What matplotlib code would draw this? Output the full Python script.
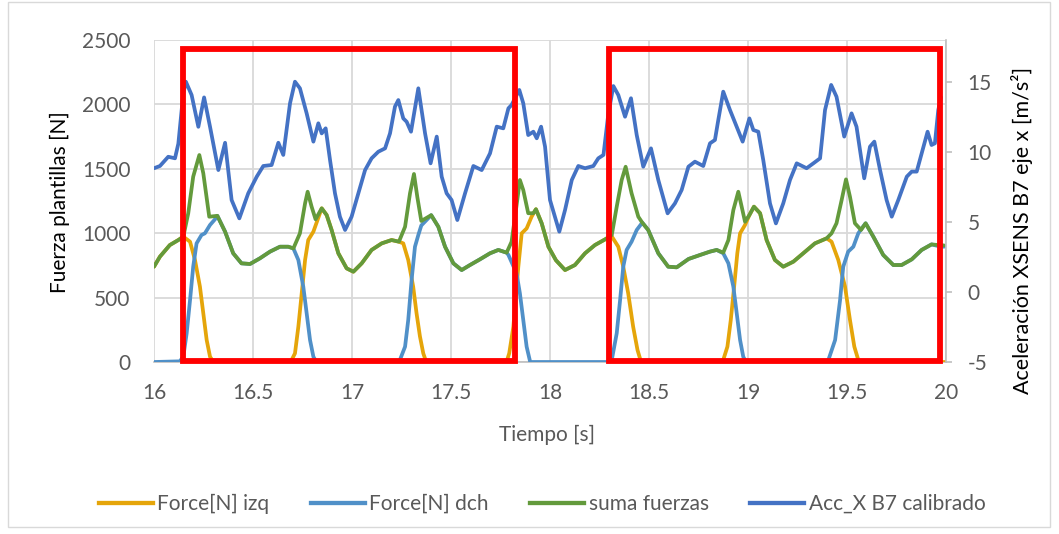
import numpy as np
import matplotlib
matplotlib.use("Agg")
import matplotlib.pyplot as plt
from matplotlib.patches import Rectangle
from matplotlib.lines import Line2D

plt.rcParams['font.family'] = ['Lato', 'DejaVu Sans']

# ---------------- data ----------------
# Left insole force [N]
t_izq = [16.00, 16.03, 16.08, 16.123, 16.148, 16.182, 16.207, 16.232, 16.249, 16.266, 16.283, 16.30,
         16.69, 16.712, 16.729, 16.746, 16.763, 16.779, 16.805, 16.83, 16.847, 16.872, 16.897, 16.931,
         16.973, 17.007, 17.049, 17.099, 17.15, 17.20, 17.237, 17.259, 17.284, 17.309, 17.326, 17.343,
         17.36, 17.375, 17.78, 17.794, 17.815, 17.84, 17.857, 17.882, 17.907, 17.929, 17.958, 17.992,
         18.03, 18.076, 18.126, 18.177, 18.227, 18.278, 18.312, 18.345, 18.37, 18.395, 18.42, 18.442,
         18.46, 18.865, 18.875, 18.896, 18.913, 18.93, 18.946, 18.96, 18.985, 19.007, 19.03, 19.061,
         19.094, 19.136, 19.178, 19.229, 19.279, 19.338, 19.397, 19.422, 19.456, 19.49, 19.515, 19.537,
         19.557, 19.575, 20.0]
f_izq = [740, 818, 908, 947, 973, 934, 792, 585, 378, 171, 41, 0,
         0, 67, 274, 533, 792, 947, 1012, 1120, 1193, 1141, 1025, 844,
         727, 701, 766, 870, 921, 947, 934, 921, 792, 585, 378, 200,
         67, 0, 0, 67, 274, 740, 999, 1037, 1128, 1186, 1077, 895,
         790, 714, 753, 844, 908, 952, 975, 895, 740, 533, 274, 93,
         0, 0, 16, 119, 326, 585, 844, 999, 1064, 1141, 1206, 1155,
         947, 792, 740, 779, 844, 921, 960, 934, 792, 585, 326, 119,
         16, 0, 0]

# Right insole force [N]
t_dch = [16.00, 16.13, 16.148, 16.165, 16.182, 16.198, 16.215, 16.24, 16.257, 16.283, 16.308, 16.32,
         16.359, 16.40, 16.442, 16.485, 16.535, 16.586, 16.636, 16.678, 16.704, 16.729, 16.754, 16.771,
         16.788, 16.805, 16.82, 17.235, 17.242, 17.268, 17.284, 17.301, 17.318, 17.335, 17.35, 17.40,
         17.436, 17.47, 17.512, 17.554, 17.596, 17.646, 17.697, 17.739, 17.781, 17.79, 17.831, 17.848,
         17.865, 17.882, 17.90, 18.305, 18.312, 18.337, 18.354, 18.37, 18.387, 18.412, 18.438, 18.466,
         18.496, 18.547, 18.597, 18.64, 18.70, 18.758, 18.808, 18.842, 18.875, 18.901, 18.926, 18.943,
         18.96, 18.976, 18.99, 19.40, 19.406, 19.44, 19.465, 19.481, 19.506, 19.532, 19.557, 19.574,
         19.594, 19.633, 19.683, 19.734, 19.776, 19.827, 19.877, 19.927, 19.961, 19.99]
f_dch = [0, 5, 41, 223, 481, 740, 921, 986, 999, 1064, 1108, 1135,
         1012, 844, 766, 761, 805, 857, 895, 895, 882, 792, 585, 378,
         171, 41, 0, 0, 16, 119, 326, 637, 895, 986, 1060, 1140,
         1050, 895, 766, 714, 753, 797, 844, 870, 849, 831, 689, 533,
         326, 119, 0, 0, 16, 223, 481, 740, 870, 934, 1025, 1082,
         1025, 844, 740, 735, 800, 831, 857, 870, 844, 766, 585, 378,
         171, 41, 0, 0, 16, 171, 481, 740, 857, 895, 999, 1037,
         1077, 973, 831, 753, 753, 797, 870, 913, 900, 895]

# Sum of both insoles [N]
t_suma = [16.00, 16.03, 16.08, 16.123, 16.148, 16.173, 16.198, 16.229, 16.249, 16.279, 16.32, 16.359,
          16.40, 16.442, 16.485, 16.535, 16.586, 16.636, 16.678, 16.704, 16.737, 16.763, 16.776, 16.796,
          16.816, 16.847, 16.872, 16.897, 16.931, 16.973, 17.007, 17.049, 17.099, 17.15, 17.20, 17.237,
          17.268, 17.293, 17.313, 17.33, 17.35, 17.40, 17.436, 17.47, 17.512, 17.554, 17.596, 17.646,
          17.697, 17.739, 17.781, 17.806, 17.828, 17.848, 17.865, 17.89, 17.916, 17.929, 17.958, 17.992,
          18.03, 18.076, 18.126, 18.177, 18.227, 18.278, 18.312, 18.337, 18.362, 18.382, 18.412, 18.446,
          18.466, 18.496, 18.547, 18.597, 18.64, 18.70, 18.758, 18.808, 18.842, 18.875, 18.901, 18.926,
          18.951, 18.968, 18.985, 19.007, 19.03, 19.061, 19.094, 19.136, 19.178, 19.229, 19.279, 19.338,
          19.397, 19.422, 19.447, 19.473, 19.495, 19.515, 19.54, 19.571, 19.594, 19.633, 19.683, 19.734,
          19.776, 19.827, 19.877, 19.927, 19.961, 19.99]
f_suma = [740, 818, 908, 947, 973, 1155, 1439, 1607, 1465, 1128, 1135, 1012,
          844, 766, 761, 805, 857, 895, 895, 882, 999, 1232, 1322, 1206,
          1108, 1193, 1141, 1025, 844, 727, 701, 766, 870, 921, 947, 934,
          1050, 1310, 1460, 1280, 1095, 1140, 1050, 895, 766, 714, 753, 797,
          844, 870, 849, 934, 1180, 1413, 1335, 1155, 1155, 1186, 1077, 895,
          790, 714, 753, 844, 908, 952, 986, 1206, 1413, 1516, 1310, 1128,
          1082, 1025, 844, 740, 735, 800, 831, 857, 870, 849, 947, 1180,
          1322, 1206, 1089, 1141, 1206, 1155, 947, 792, 740, 779, 844, 921,
          960, 999, 1077, 1258, 1418, 1283, 1077, 1025, 1077, 973, 831, 753,
          753, 797, 870, 913, 908, 905]

# Calibrated X acceleration, XSENS sensor B7 [m/s^2]
t_acc = [16.00, 16.03, 16.072, 16.106, 16.123, 16.148, 16.161, 16.19, 16.224, 16.253, 16.283, 16.325,
         16.359, 16.392, 16.431, 16.476, 16.519, 16.552, 16.594, 16.628, 16.653, 16.687, 16.712, 16.737,
         16.771, 16.805, 16.830, 16.847, 16.867, 16.889, 16.914, 16.939, 16.965, 16.998, 17.032, 17.066,
         17.099, 17.133, 17.167, 17.192, 17.217, 17.234, 17.259, 17.276, 17.298, 17.335, 17.369, 17.397,
         17.428, 17.453, 17.478, 17.503, 17.532, 17.571, 17.613, 17.655, 17.697, 17.731, 17.764, 17.79,
         17.806, 17.845, 17.865, 17.89, 17.916, 17.933, 17.955, 17.975, 18.0, 18.047, 18.076, 18.11,
         18.143, 18.177, 18.219, 18.244, 18.27, 18.295, 18.32, 18.345, 18.379, 18.409, 18.438, 18.471,
         18.51, 18.547, 18.594, 18.631, 18.665, 18.699, 18.732, 18.774, 18.808, 18.833, 18.850, 18.875,
         18.909, 18.943, 18.973, 19.007, 19.027, 19.052, 19.077, 19.111, 19.141, 19.178, 19.212, 19.246,
         19.296, 19.33, 19.364, 19.389, 19.42, 19.447, 19.486, 19.523, 19.548, 19.587, 19.616, 19.638,
         19.667, 19.70, 19.726, 19.759, 19.802, 19.827, 19.852, 19.877, 19.907, 19.927, 19.944, 19.961,
         19.975]
a_acc = [8.84, 9.0, 9.66, 9.55, 10.6, 14.19, 15.02, 14.07, 11.8, 13.9, 11.8, 8.71,
         10.66, 6.57, 5.26, 7.05, 8.24, 9.0, 9.07, 10.66, 9.79, 13.48, 15.02, 14.55,
         12.76, 10.74, 12.05, 11.33, 11.69, 9.43, 7.05, 5.38, 4.43, 5.38, 7.05, 8.71,
         9.55, 10.02, 10.26, 11.33, 13.24, 13.71, 12.40, 12.16, 11.45, 14.55, 11.33, 9.19,
         11.1, 8.24, 7.05, 6.57, 5.14, 7.05, 9.0, 8.71, 9.90, 11.81, 11.69, 13.12,
         13.36, 14.43, 13.48, 11.21, 11.45, 10.98, 11.81, 10.38, 6.57, 4.31, 5.86, 8.0,
         9.0, 8.84, 9.0, 9.55, 9.79, 12.76, 14.71, 14.07, 12.52, 13.84, 11.21, 8.95,
         10.26, 8.0, 5.62, 6.33, 7.29, 8.95, 9.31, 9.0, 10.62, 10.86, 12.29, 14.31,
         13.0, 11.81, 10.74, 12.40, 11.57, 11.45, 9.43, 6.33, 4.9, 6.33, 8.0, 9.19,
         8.84, 9.19, 9.55, 13.0, 14.79, 13.95, 11.1, 12.76, 11.81, 8.12, 10.38, 10.74,
         8.71, 6.57, 5.38, 6.57, 8.24, 8.6, 8.6, 9.9, 11.45, 10.5, 10.62, 13.0,
         13.9]

series_labels = ["Force[N] izq", "Force[N] dch", "suma fuerzas", "Acc_X B7 calibrado"]
series_colors = ["#E5A50A", "#5090C8", "#639A3C", "#4472C4"]

force_ticks = [0, 500, 1000, 1500, 2000, 2500]
acc_ticks = [-5, 0, 5, 10, 15]
time_ticks = [16, 16.5, 17, 17.5, 18, 18.5, 19, 19.5, 20]

# highlighted time windows (red boxes), in time [s] and force [N]
box_start = [16.144, 18.299]
box_end = [17.821, 19.972]
box_low, box_high = 10, 2430

# ---------------- figure ----------------
W, H = 1059, 534
fig = plt.figure(figsize=(W / 100, H / 100), dpi=100)
fig.patch.set_facecolor("white")

ax = fig.add_axes([154 / W, 1 - 362 / H, (946 - 154) / W, (362 - 40) / H])
ax2 = ax.twinx()

tick_gray = "#595959"
grid_gray = "#D9D9D9"
axis_gray = "#BFBFBF"
lw = 2.7
line_kw = dict(lw=lw, solid_joinstyle="round", solid_capstyle="round")

ax.plot(t_izq, f_izq, color=series_colors[0], zorder=3, **line_kw)
ax.plot(t_dch, f_dch, color=series_colors[1], zorder=4, **line_kw)
ax.plot(t_suma, f_suma, color=series_colors[2], zorder=5, **line_kw)
ax2.plot(t_acc, a_acc, color=series_colors[3], zorder=3, **line_kw)

ax.set_xlim(16, 20)
ax.set_ylim(0, 2500)
ax2.set_ylim(-5, 18)

ax.set_xticks(time_ticks)
ax.set_xticklabels([f"{v:g}" for v in time_ticks])
ax.set_yticks(force_ticks)
ax.set_yticklabels([str(v) for v in force_ticks])
ax2.set_yticks(acc_ticks)
ax2.set_yticklabels([str(v) for v in acc_ticks])

ax.grid(True, color=grid_gray, lw=1.3)
ax.set_axisbelow(True)

for s in ["top", "left", "right"]:
    ax.spines[s].set_visible(False)
ax.spines["bottom"].set_color(axis_gray)
ax.spines["bottom"].set_linewidth(1.2)
for s in ["top", "left", "bottom"]:
    ax2.spines[s].set_visible(False)
ax2.spines["right"].set_color(axis_gray)
ax2.spines["right"].set_linewidth(1.2)

ax.tick_params(axis="x", length=0, pad=15, labelsize=15, labelcolor=tick_gray)
ax.tick_params(axis="y", length=0, pad=17, labelsize=15, labelcolor=tick_gray)
ax2.tick_params(axis="y", length=4.5, width=1.2, color=axis_gray, pad=11,
                labelsize=15, labelcolor=tick_gray)

# highlighted windows
for x0, x1 in zip(box_start, box_end):
    ax2.add_patch(Rectangle((x0, box_low), x1 - x0, box_high - box_low,
                            transform=ax.transData, fill=False,
                            edgecolor="#FF0000", lw=4.2, zorder=10, clip_on=False))

# axis titles
fig.text(60 / W, 1 - 202 / H, "Fuerza plantillas [N]", rotation=90,
         ha="center", va="center", fontsize=15, color="black")
fig.text(1022 / W, 1 - 230 / H, "Aceleración XSENS B7 eje x [m/s²]", rotation=90,
         ha="center", va="center", fontsize=15.5, color="black")
fig.text(547 / W, 1 - 435 / H, "Tiempo [s]", ha="center", va="center",
         fontsize=15, color=tick_gray)

# legend
handles = [Line2D([], [], color=c, lw=lw + 0.4) for c in series_colors]
leg = fig.legend(handles, series_labels, loc="center", bbox_to_anchor=(542 / W, 1 - 504 / H),
                 ncol=4, frameon=False, fontsize=15, handlelength=2.6, handletextpad=0.2,
                 columnspacing=2.0)
for txt in leg.get_texts():
    txt.set_color(tick_gray)

# chart border
fig.add_artist(Rectangle((8 / W, 1 - 527 / H), (1050 - 8) / W, (527 - 2) / H,
                         transform=fig.transFigure, fill=False, edgecolor=grid_gray, lw=1.0))

fig.savefig("out.png", dpi=100)
